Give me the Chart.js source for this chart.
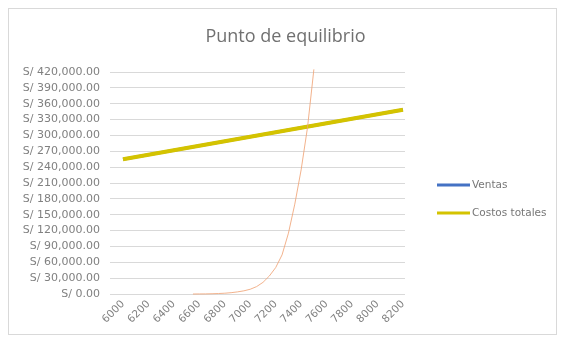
<!DOCTYPE html>
<html>
<head>
<meta charset="utf-8">
<script src="https://cdn.jsdelivr.net/npm/chart.js@4"></script>
<style>
html,body{margin:0;padding:0;background:#fff;}
#wrap{width:561px;height:339px;position:relative;}
</style>
</head>
<body>
<div id="wrap"><canvas id="c" width="561" height="339"></canvas></div>
<script>
const chartTitle = 'Punto de equilibrio';
const cantidades = [6000, 6200, 6400, 6600, 6800, 7000, 7200, 7400, 7600, 7800, 8000, 8200];
const ventas = [255000, 263500, 272000, 280500, 289000, 297500, 306000, 314500, 323000, 331500, 340000, 348500];
const costosTotales = [255000, 263500, 272000, 280500, 289000, 297500, 306000, 314500, 323000, 331500, 340000, 348500];
const cantidadesCurva = [6550, 6600, 6650, 6700, 6750, 6800, 6850, 6900, 6950, 7000, 7050, 7100, 7150, 7200, 7250, 7300, 7350, 7400, 7450, 7500];
const valoresCurva = [0, 100, 200, 500, 900, 1500, 2500, 4000, 6000, 9000, 14000, 22000, 34000, 50000, 74000, 115000, 170000, 235000, 315000, 425000];
const yTicks = [0, 30000, 60000, 90000, 120000, 150000, 180000, 210000, 240000, 270000, 300000, 330000, 360000, 390000, 420000];

const pts = (xs, ys) => xs.map((x, i) => ({x: x, y: ys[i]}));
const fmt = v => 'S/ ' + v.toLocaleString('en-US', {minimumFractionDigits: 2, maximumFractionDigits: 2});

const textColor = '#808080';
const FONT = '"DejaVu Sans", sans-serif';

const borderPlugin = {
  id: 'border',
  afterDraw(chart) {
    const ctx = chart.ctx;
    ctx.save();
    ctx.strokeStyle = '#d9d9d9';
    ctx.lineWidth = 1;
    ctx.strokeRect(8.5, 8.5, 548, 326);
    ctx.restore();
  }
};

const legendPlugin = {
  id: 'customLegend',
  afterDraw(chart) {
    const ctx = chart.ctx;
    const items = chart.data.datasets.filter(d => d.inLegend);
    ctx.save();
    ctx.font = '10.5px ' + FONT;
    ctx.textBaseline = 'middle';
    ctx.textAlign = 'left';
    items.forEach((d, i) => {
      const y = 185 + i * 28;
      ctx.strokeStyle = d.borderColor;
      ctx.lineWidth = 3;
      ctx.beginPath();
      ctx.moveTo(437, y);
      ctx.lineTo(470, y);
      ctx.stroke();
      ctx.fillStyle = '#777';
      ctx.fillText(d.label, 472, y);
    });
    ctx.restore();
  }
};

new Chart(document.getElementById('c'), {
  type: 'line',
  data: {
    datasets: [
      {label: 'Ventas', data: pts(cantidades, ventas), borderColor: '#4472C4', borderWidth: 3, pointRadius: 0, inLegend: true, order: 3},
      {label: 'Costos totales', data: pts(cantidades, costosTotales), borderColor: '#D4C300', borderWidth: 4, pointRadius: 0, inLegend: true, order: 2},
      {label: 'Curva', data: pts(cantidadesCurva, valoresCurva), borderColor: 'rgba(240,165,120,0.85)', borderWidth: 1, pointRadius: 0, inLegend: false, order: 1, clip: 6}
    ]
  },
  options: {
    responsive: false,
    animation: false,
    layout: {padding: {left: 10, right: 0, top: 0, bottom: 6}},
    plugins: {
      legend: {display: false},
      tooltip: {enabled: false},
      title: {
        display: true,
        text: chartTitle,
        color: '#707070',
        font: {family: '"Open Sans", sans-serif', size: 18, weight: 'normal'},
        padding: {top: 26, bottom: 24.4}
      }
    },
    scales: {
      x: {
        type: 'linear',
        min: 5898,
        max: 8216,
        afterBuildTicks(scale) {
          scale.ticks = cantidades.map(v => ({value: v}));
        },
        afterFit(scale) { scale.height = 39; },
        grid: {display: false, drawTicks: false},
        border: {display: false},
        ticks: {
          color: textColor,
          font: {family: FONT, size: 10.5},
          maxRotation: 45,
          minRotation: 45,
          padding: 4,
          autoSkip: false,
          callback: v => String(v)
        }
      },
      y: {
        min: 0,
        max: 420000,
        afterBuildTicks(scale) {
          scale.ticks = yTicks.map(v => ({value: v}));
        },
        afterFit(scale) { scale.width = 100; },
        grid: {color: '#d9d9d9', drawTicks: false},
        border: {display: false},
        ticks: {
          color: textColor,
          font: {family: FONT, size: 11},
          padding: 10,
          autoSkip: false,
          callback: v => fmt(v)
        }
      },
      yRight: {
        position: 'right',
        min: 0,
        max: 420000,
        afterFit(scale) { scale.width = 156; },
        grid: {display: false, drawTicks: false},
        border: {display: false},
        ticks: {display: false}
      }
    }
  },
  plugins: [borderPlugin, legendPlugin]
});
</script>
</body>
</html>
